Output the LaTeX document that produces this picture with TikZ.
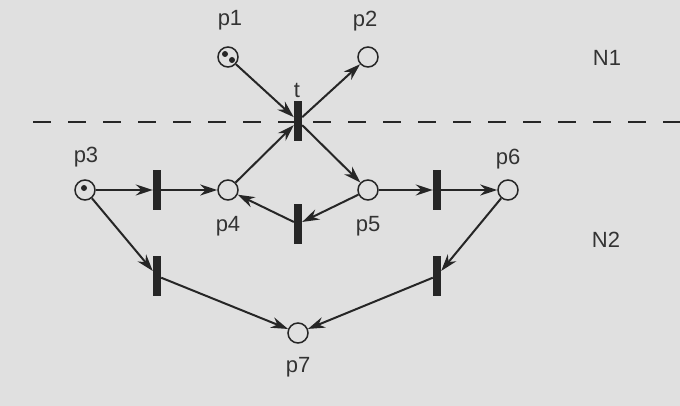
\documentclass[tikz,border=0pt]{standalone}
\usepackage{fontspec}
\setmainfont{Liberation Sans}
\usetikzlibrary{arrows.meta}
\tikzset{
  place/.style={circle,draw=black!85,line width=1.5pt,minimum size=20pt,inner sep=0pt},
  trans/.style={rectangle,fill=black!85,minimum width=8pt,minimum height=40pt,inner sep=0pt},
  arc/.style={-{Stealth[length=17pt,width=11pt]},line width=2pt,draw=black!85},
  lbl/.style={font=\fontsize{22}{26}\selectfont,text=black!80,inner sep=0pt},
  token/.style={circle,fill=black!85,inner sep=0pt,minimum size=6pt}
}
\begin{document}
\begin{tikzpicture}[x=1pt,y=-1pt]
\fill[black!12] (0,0) rectangle (680,406);
\useasboundingbox (0,0) rectangle (680,406);
% dashed separator
\draw[black!85,line width=2pt,dash pattern=on 18pt off 17pt] (33,122) -- (680,122);
% places
\node[place] (p1) at (228,57) {};
\node[place] (p2) at (368,57) {};
\node[place] (p3) at (85,190) {};
\node[place] (p4) at (228,190) {};
\node[place] (p5) at (368,190) {};
\node[place] (p6) at (508,190) {};
\node[place] (p7) at (298,333) {};
% tokens
\node[token] (k1) at (225,54) {};
\node[token] (k2) at (232,60) {};
\node[token] (k3) at (84,188) {};
% transitions
\node[trans] (t) at (298,121) {};
\node[trans] (ta) at (157,190) {};
\node[trans] (tb) at (298,224) {};
\node[trans] (tc) at (437,190) {};
\node[trans] (td) at (157,276) {};
\node[trans] (te) at (437,276) {};
% labels
\node[lbl] (lp1) at (230,20) {p1};
\node[lbl] (lp2) at (365,21) {p2};
\node[lbl] (lt) at (297,90) {t};
\node[lbl] (lp3) at (86,157) {p3};
\node[lbl] (lp4) at (228,226) {p4};
\node[lbl] (lp5) at (368,226) {p5};
\node[lbl] (lp6) at (508,159) {p6};
\node[lbl] (lp7) at (298,367) {p7};
\node[lbl] (ln1) at (607,58) {N1};
\node[lbl] (ln2) at (606,240) {N2};
% arcs
\draw[arc] (p1) -- (t);
\draw[arc] (t) -- (p2);
\draw[arc] (p4) -- (t);
\draw[arc] (t) -- (p5);
\draw[arc] (p3) -- (ta);
\draw[arc] (ta) -- (p4);
\draw[arc] (p5) -- (tb);
\draw[arc] (tb) -- (p4);
\draw[arc] (p5) -- (tc);
\draw[arc] (tc) -- (p6);
\draw[arc] (p3) -- (td);
\draw[arc] (td) -- (p7);
\draw[arc] (p6) -- (te);
\draw[arc] (te) -- (p7);
\end{tikzpicture}
\end{document}
